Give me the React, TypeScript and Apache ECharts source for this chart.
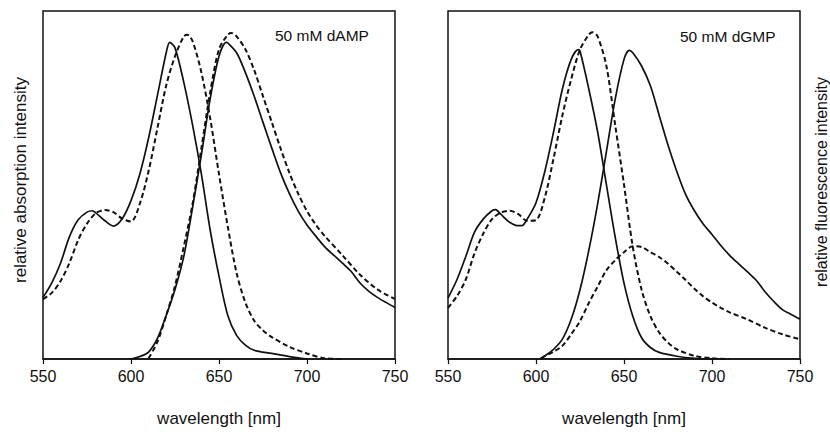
import React, { useEffect, useRef } from "react";
import * as echarts from "echarts";

// ---- Data (wavelength in nm, relative intensity 0-100) ----
const xTicks = [550, 600, 650, 700, 750];

// Left panel: 50 mM dAMP
const absWlA = [550, 555, 560, 565, 570, 575, 578, 580, 585, 590, 595, 600, 605, 610, 615, 620, 622, 625, 630, 635, 640, 645, 650, 655, 660, 665, 670, 680, 690, 700];
const absSolidA = [17.7, 21.9, 27.6, 35.1, 40.0, 42.2, 42.6, 42.0, 39.8, 38.2, 40.3, 45.5, 53.1, 63.5, 75.7, 88.0, 91.0, 89.4, 79.5, 67.2, 53.1, 37.0, 23.8, 12.5, 6.8, 4.0, 2.5, 1.6, 0.7, 0];
const absDashWlA = [550, 555, 560, 565, 570, 575, 580, 585, 590, 595, 600, 605, 610, 615, 620, 625, 630, 632, 635, 640, 645, 650, 655, 660, 665, 670, 675, 680, 690, 700, 710, 720];
const absDashA = [17.2, 19.0, 22.4, 27.6, 34.2, 38.9, 41.9, 42.8, 42.2, 40.3, 39.5, 44.6, 54.0, 66.3, 78.6, 87.0, 92.7, 93.2, 91.3, 82.3, 69.1, 53.1, 38.0, 24.7, 16.2, 11.0, 8.2, 6.3, 3.5, 1.6, 0.2, 0];
const flWlA = [600, 605, 610, 615, 620, 625, 630, 635, 640, 645, 650, 654, 655, 660, 665, 670, 675, 680, 685, 690, 695, 700, 705, 710, 715, 720, 725, 730, 735, 740, 745, 750];
const flSolidA = [0, 0.7, 2.0, 5.9, 12.5, 20.0, 29.5, 43.6, 58.7, 74.8, 87.0, 91.0, 90.8, 88.0, 82.3, 75.5, 68.0, 60.6, 53.5, 47.5, 42.5, 38.5, 35.3, 32.3, 29.9, 27.6, 25.2, 21.9, 19.5, 17.7, 16.2, 14.8];
const flDashWlA = [610, 615, 620, 625, 630, 635, 640, 645, 650, 655, 657, 660, 665, 670, 675, 680, 685, 690, 695, 700, 705, 710, 720, 730, 740, 750];
const flDashA = [0.2, 4.9, 12.5, 21.0, 32.3, 44.6, 60.6, 76.7, 89.0, 93.2, 93.7, 92.7, 89.0, 83.0, 75.5, 68.0, 60.5, 53.5, 47.5, 42.5, 38.6, 35.4, 29.9, 24.3, 20.0, 17.2];

// Right panel: 50 mM dGMP
const absWlG = [550, 555, 560, 565, 570, 575, 577, 580, 585, 590, 592, 595, 600, 605, 610, 615, 620, 624, 625, 630, 635, 640, 645, 650, 655, 660, 665, 670, 680, 690, 700];
const absSolidG = [17.5, 22.7, 29.3, 36.4, 40.2, 42.6, 42.9, 41.6, 39.3, 38.3, 38.3, 40.2, 44.9, 53.9, 65.3, 77.6, 86.1, 88.9, 88.5, 77.6, 65.3, 50.1, 35.0, 21.8, 12.3, 6.1, 3.3, 1.9, 0.8, 0.2, 0];
const absDashWlG = [550, 555, 560, 565, 570, 575, 580, 585, 590, 595, 600, 605, 610, 615, 620, 625, 630, 632, 635, 640, 645, 650, 655, 660, 665, 670, 675, 680, 690, 700, 710];
const absDashG = [14.7, 18.0, 22.7, 30.3, 36.0, 40.2, 42.1, 42.6, 41.6, 39.7, 39.9, 46.4, 57.7, 70.0, 80.4, 88.9, 93.2, 93.9, 92.7, 84.2, 67.2, 50.1, 32.2, 19.9, 12.3, 7.6, 4.7, 2.8, 0.9, 0.2, 0];
const flWlG = [602, 605, 610, 615, 620, 625, 630, 635, 640, 645, 650, 653, 655, 660, 665, 670, 675, 680, 685, 690, 695, 700, 705, 710, 715, 720, 725, 730, 735, 740, 745, 750];
const flSolidG = [0, 0.9, 2.8, 5.7, 11.4, 19.9, 31.2, 44.5, 59.6, 74.7, 86.1, 88.7, 88.0, 84.2, 78.5, 70.0, 61.5, 53.9, 47.3, 42.6, 38.8, 35.8, 32.6, 29.8, 27.4, 25.1, 22.7, 19.4, 16.6, 14.2, 12.8, 11.4];
const flDashWlG = [603, 605, 610, 615, 620, 625, 630, 635, 640, 645, 650, 655, 660, 665, 670, 675, 680, 685, 690, 695, 700, 705, 710, 720, 730, 740, 750];
const flDashG = [0.2, 0.8, 2.1, 3.8, 7.1, 10.9, 16.1, 20.8, 25.5, 28.4, 30.7, 32.4, 32.2, 30.7, 29.3, 27.4, 25.1, 22.7, 20.2, 18.0, 16.2, 14.7, 13.4, 11.4, 9.0, 7.1, 5.7];

const xName = "wavelength [nm]";
const yNameLeft = "relative absorption intensity";
const yNameRight = "relative fluorescence intensity";
const labelA = "50 mM dAMP";
const labelG = "50 mM dGMP";

const FONT = "'Liberation Sans', Arial, Helvetica, sans-serif";

function pairs(xs: number[], ys: number[]) {
  return xs.map((x, i) => [x, ys[i]]);
}

export default function App() {
  const ref = useRef<HTMLDivElement>(null);
  useEffect(() => {
    if (!ref.current) return;
    const chart = echarts.init(ref.current, null, { renderer: "svg" });

    const xAxisBase = (gridIndex: number) => ({
      type: "value",
      gridIndex,
      min: 550,
      max: 750,
      interval: 50,
      name: xName,
      nameLocation: "middle",
      nameGap: 51,
      nameTextStyle: { color: "#111", fontSize: 17, fontFamily: FONT },
      axisLine: { show: true, onZero: false, lineStyle: { color: "#111", width: 1.5 } },
      axisTick: { show: true, length: 5, inside: false, lineStyle: { color: "#111", width: 1.2 } },
      axisLabel: {
        color: "#111",
        fontSize: 16,
        fontFamily: FONT,
        margin: 9,
        customValues: xTicks,
      },
      splitLine: { show: false },
    });

    const yAxisBase = (gridIndex: number) => ({
      type: "value",
      gridIndex,
      min: 0,
      max: 100,
      axisLine: { show: false },
      axisTick: { show: false },
      axisLabel: { show: false },
      splitLine: { show: false },
    });

    const solid = (xi: number, data: number[][]) => ({
      type: "line",
      xAxisIndex: xi,
      yAxisIndex: xi,
      data,
      symbol: "none",
      smooth: 0.3,
      lineStyle: { color: "#111", width: 1.7, type: "solid" },
    });
    const dashed = (xi: number, data: number[][]) => ({
      type: "line",
      xAxisIndex: xi,
      yAxisIndex: xi,
      data,
      symbol: "none",
      smooth: 0.3,
      lineStyle: { color: "#111", width: 2, type: [5, 3] },
    });

    chart.setOption({
      animation: false,
      backgroundColor: "#fff",
      grid: [
        { left: 43, top: 11, width: 352, height: 353, show: true, borderColor: "#111", borderWidth: 1.5, backgroundColor: "transparent" },
        { left: 448, top: 11, width: 352, height: 353, show: true, borderColor: "#111", borderWidth: 1.5, backgroundColor: "transparent" },
      ],
      xAxis: [xAxisBase(0), xAxisBase(1)],
      yAxis: [yAxisBase(0), yAxisBase(1)],
      series: [
        solid(0, pairs(absWlA, absSolidA)),
        dashed(0, pairs(absDashWlA, absDashA)),
        solid(0, pairs(flWlA, flSolidA)),
        dashed(0, pairs(flDashWlA, flDashA)),
        solid(1, pairs(absWlG, absSolidG)),
        dashed(1, pairs(absDashWlG, absDashG)),
        solid(1, pairs(flWlG, flSolidG)),
        dashed(1, pairs(flDashWlG, flDashG)),
      ],
      graphic: [
        {
          type: "text",
          x: 20,
          y: 180,
          rotation: Math.PI / 2,
          style: { text: yNameLeft, fill: "#111", fontSize: 17, fontFamily: FONT, textAlign: "center", textVerticalAlign: "middle" },
        },
        {
          type: "text",
          x: 821,
          y: 182,
          rotation: Math.PI / 2,
          style: { text: yNameRight, fill: "#111", fontSize: 16, fontFamily: FONT, textAlign: "center", textVerticalAlign: "middle" },
        },
        {
          type: "text",
          x: 275,
          y: 35,
          style: { text: labelA, fill: "#111", fontSize: 15.5, fontFamily: FONT, textAlign: "left", textVerticalAlign: "middle" },
        },
        {
          type: "text",
          x: 680,
          y: 36,
          style: { text: labelG, fill: "#111", fontSize: 15.5, fontFamily: FONT, textAlign: "left", textVerticalAlign: "middle" },
        },
      ],
    });
    return () => chart.dispose();
  }, []);

  return (
    <div
      ref={ref}
      style={{ width: 830, height: 432, position: "absolute", left: 0, top: 0 }}
    />
  );
}
